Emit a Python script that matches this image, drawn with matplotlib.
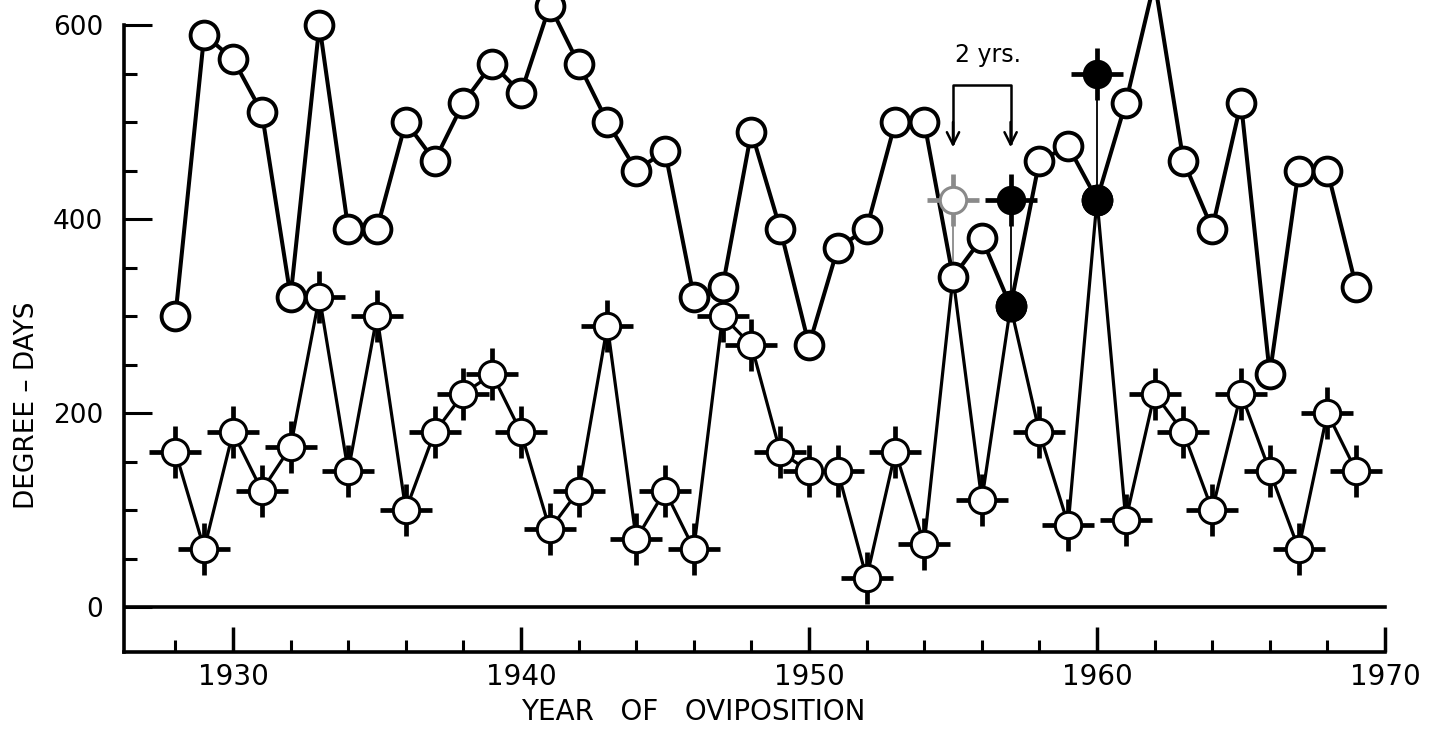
import matplotlib
matplotlib.use('Agg')
import matplotlib.pyplot as plt
import numpy as np

years = list(range(1928, 1970))

# plain open circles (upper curve)
upper = [300, 590, 565, 510, 320, 600, 390, 390, 500, 460,
         520, 560, 530, 620, 560, 500, 450, 470, 320, 330,
         490, 390, 270, 370, 390, 500, 500, 340, 380, 310,
         460, 475, 420, 520, 645, 460, 390, 520, 240, 450,
         450, 330]

# circles with cross ticks (lower curve)
lower = [160, 60, 180, 120, 165, 320, 140, 300, 100, 180,
         220, 240, 180, 80, 120, 290, 70, 120, 60, 300,
         270, 160, 140, 140, 30, 160, 65, 340, 110, 310,
         180, 85, 420, 90, 220, 180, 100, 220, 140, 60,
         200, 140]

# years where both curves meet in one plain circle
shared_years = [1955, 1957, 1960]
filled_years = [1957, 1960]

# extra crossed points above the shared ones
extra_years = [1955, 1957, 1960]
extra_vals = [420, 420, 550]
extra_filled = [False, True, True]
extra_color = ['#8a8a8a', 'black', 'black']

x_left = 1930 - (233 - 124) / 28.8
x_right = 1930 + (1449 - 233) / 28.8
y_bot = (607 - 652) / 0.97
y_top = 607 / 0.97

fig = plt.figure(figsize=(14.49, 7.3), dpi=100)
ax = fig.add_axes([124 / 1449, 78 / 730, 1 - 124 / 1449, 652 / 730])
ax.set_xlim(x_left, x_right)
ax.set_ylim(y_bot, y_top)

# zero line
ax.axhline(0, xmin=0, xmax=(1970 - x_left) / (x_right - x_left),
           color='black', lw=2.6, zorder=1)

ax.plot(years, lower, color='black', lw=2.3, zorder=2)
ax.plot(years, upper, color='black', lw=2.9, zorder=2)

# thin links from the extra points down to the shared circles
for yr, v, c in zip(extra_years, extra_vals, extra_color):
    base = upper[years.index(yr)]
    ax.plot([yr, yr], [base, v], color=c, lw=1.3, zorder=2)

lx = [yr for yr in years if yr not in shared_years]
ly = [lower[years.index(yr)] for yr in lx]
ax.plot(lx, ly, ls='none', marker='+', ms=38, mew=3.4, color='black', zorder=3)
ax.plot(lx, ly, ls='none', marker='o', ms=19, mew=2.2, mfc='white',
        mec='black', zorder=4)

for yr, v, f, c in zip(extra_years, extra_vals, extra_filled, extra_color):
    ax.plot(yr, v, ls='none', marker='+', ms=38, mew=3.4, color=c, zorder=3)
    ax.plot(yr, v, ls='none', marker='o', ms=19, mew=2.2,
            mfc=c if f else 'white', mec=c, zorder=4)

ax.plot(years, upper, ls='none', marker='o', ms=20, mew=2.8, mfc='white',
        mec='black', zorder=5)
fv = [upper[years.index(yr)] for yr in filled_years]
ax.plot(filled_years, fv, ls='none', marker='o', ms=20, mew=2.8, mfc='black',
        mec='black', zorder=6)

# "2 yrs." bracket
ax.plot([1955, 1955, 1957, 1957], [478, 538, 538, 478], color='black', lw=1.8, zorder=2)
for xb in [1955, 1957]:
    ax.annotate('', xy=(xb, 474), xytext=(xb, 500),
                arrowprops=dict(arrowstyle='->', lw=1.8, color='black',
                                mutation_scale=22, shrinkA=0, shrinkB=0))
ax.text(1956.2, 569, '2 yrs.', ha='center', va='center', fontsize=17)

# axes styling
for s in ['top', 'right']:
    ax.spines[s].set_visible(False)
ax.spines['left'].set_bounds(y_bot, 600)
ax.spines['bottom'].set_bounds(x_left, 1970)
ax.spines['left'].set_linewidth(2.6)
ax.spines['bottom'].set_linewidth(2.6)

ax.set_yticks([0, 200, 400, 600])
ax.set_yticks(np.arange(0, 601, 50), minor=True)
ax.set_xticks([1930, 1940, 1950, 1960, 1970])
ax.set_xticks(range(1928, 1971, 2), minor=True)
ax.tick_params(axis='y', which='major', direction='in', length=20, width=2.2,
               pad=15, labelsize=19)
ax.tick_params(axis='y', which='minor', direction='in', length=9, width=2.2)
ax.tick_params(axis='x', which='major', direction='in', length=18, width=2.5,
               pad=8, labelsize=20)
ax.tick_params(axis='x', which='minor', direction='in', length=9, width=2.2)

fig.text(693 / 1449, 1 - 712 / 730, 'YEAR   OF   OVIPOSITION', ha='center',
         va='center', fontsize=20)
fig.text(27 / 1449, 1 - 405 / 730, 'DEGREE – DAYS', ha='center', va='center',
         rotation=90, fontsize=19)

fig.savefig('out.png', dpi=100)
